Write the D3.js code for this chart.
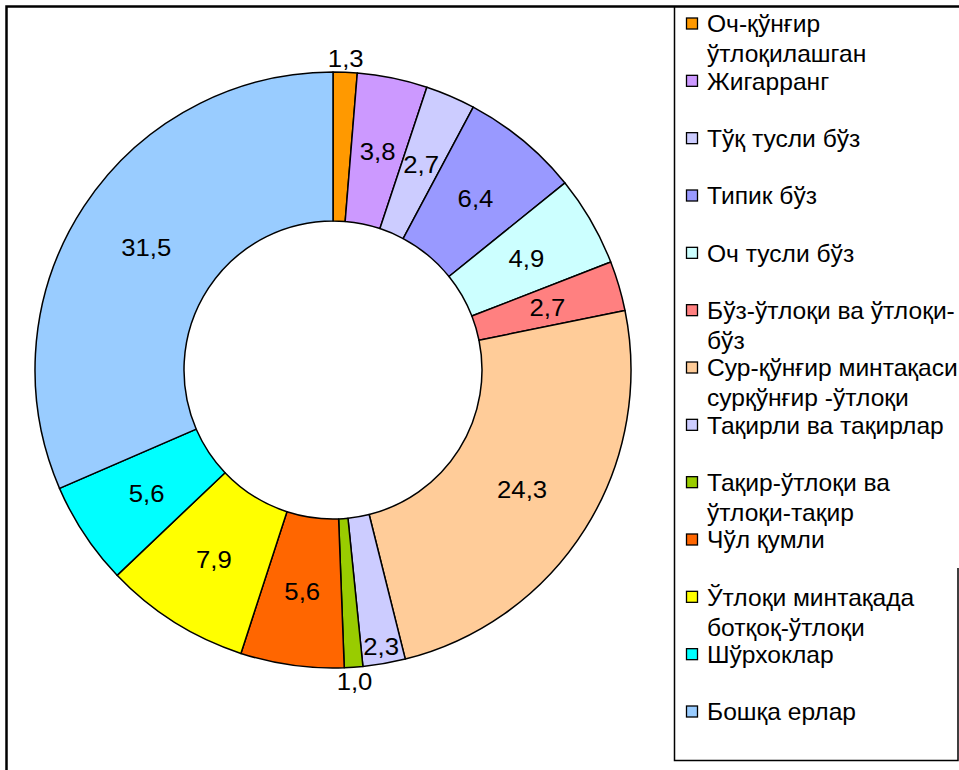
<!DOCTYPE html>
<html>
<head>
<meta charset="utf-8">
<script src="https://cdn.jsdelivr.net/npm/d3@7"></script>
<style>
    html, body { margin: 0; padding: 0; background: #fff; }
    svg { display: block; font-family: "Liberation Sans", Arial, sans-serif; }
</style>
</head>
<body>
<div id="chart"></div>
<script>
// soil categories (legend text, line breaks as in the original)
var categories = [
    "Оч-қўнғир\nўтлоқилашган",
    "Жигарранг",
    "Тўқ тусли бўз",
    "Типик бўз",
    "Оч тусли бўз",
    "Бўз-ўтлоқи ва ўтлоқи-\nбўз",
    "Сур-қўнғир минтақаси\nсурқўнғир -ўтлоқи",
    "Тақирли ва тақирлар",
    "Тақир-ўтлоқи ва\nўтлоқи-тақир",
    "Чўл қумли",
    "Ўтлоқи минтақада\nботқоқ-ўтлоқи",
    "Шўрхоклар",
    "Бошқа ерлар"
];
var values = [1.3, 3.8, 2.7, 6.4, 4.9, 2.7, 24.3, 2.3, 1.0, 5.6, 7.9, 5.6, 31.5];
var colors = ["#FF9900", "#CC99FF", "#CCCCFF", "#9999FF", "#CCFFFF", "#FF8080",
              "#FFCC99", "#CCCCFF", "#99CC00", "#FF6600", "#FFFF00", "#00FFFF", "#99CCFF"];

var W = 959, H = 770;
var cx = 333, cy = 370, outerR = 298, innerR = 149;

var svg = d3.select("#chart").append("svg")
    .attr("width", W)
    .attr("height", H);

// chart frame
svg.append("path")
    .attr("d", "M6.5,770 L6.5,6.5 L959,6.5")
    .attr("fill", "none")
    .attr("stroke", "#000")
    .attr("stroke-width", 2.5);

var data = categories.map(function (c, i) {
    return { name: c, value: values[i], color: colors[i] };
});

var pie = d3.pie()
    .value(function (d) { return d.value; })
    .sort(null);

var arc = d3.arc().innerRadius(innerR).outerRadius(outerR);

var g = svg.append("g").attr("transform", "translate(" + cx + "," + cy + ")");
var arcs = pie(data);

g.selectAll("path.slice")
    .data(arcs)
    .enter().append("path")
    .attr("class", "slice")
    .attr("d", arc)
    .attr("fill", function (d) { return d.data.color; })
    .attr("stroke", "#000")
    .attr("stroke-width", 1.5)
    .attr("stroke-linejoin", "round");

// labels: small slices get pushed out like Excel does
function labelRadius(v) {
    if (v < 2) return outerR + 14;
    if (v < 2.5) return outerR - 18;
    return (innerR + outerR) / 2;
}
var fmt = function (v) { return d3.format(".1f")(v).replace(".", ","); };

g.selectAll("text.val")
    .data(arcs)
    .enter().append("text")
    .attr("class", "val")
    .attr("transform", function (d) {
        var a = (d.startAngle + d.endAngle) / 2;
        var r = labelRadius(d.data.value);
        return "translate(" + (Math.sin(a) * r) + "," + (-Math.cos(a) * r) + ") scale(1.05,1)";
    })
    .attr("dy", "0.36em")
    .attr("text-anchor", "middle")
    .attr("font-size", 24.5)
    .attr("fill", "#000")
    .text(function (d) { return fmt(d.data.value); });

// legend box
svg.append("path")
    .attr("d", "M674.5,6.5 L674.5,760.5 L958,760.5 L958,568")
    .attr("fill", "none")
    .attr("stroke", "#000")
    .attr("stroke-width", 1.5);

var legendY = d3.scalePoint()
    .domain(d3.range(categories.length))
    .range([24, 712]);

var items = svg.selectAll("g.leg")
    .data(data)
    .enter().append("g")
    .attr("class", "leg")
    .attr("transform", function (d, i) { return "translate(686," + legendY(i) + ")"; });

items.append("rect")
    .attr("x", 0.5)
    .attr("y", -6)
    .attr("width", 11)
    .attr("height", 11)
    .attr("fill", function (d) { return d.color; })
    .attr("stroke", "#000")
    .attr("stroke-width", 1.3);

items.append("text")
    .attr("transform", "translate(21,0) scale(1.07,1)")
    .attr("font-size", 23)
    .attr("fill", "#000")
    .selectAll("tspan")
    .data(function (d) { return d.name.split("\n"); })
    .enter().append("tspan")
    .attr("x", 0)
    .attr("y", function (d, i) { return i * 30; })
    .attr("dy", "0.36em")
    .text(function (d) { return d; });
</script>
</body>
</html>
